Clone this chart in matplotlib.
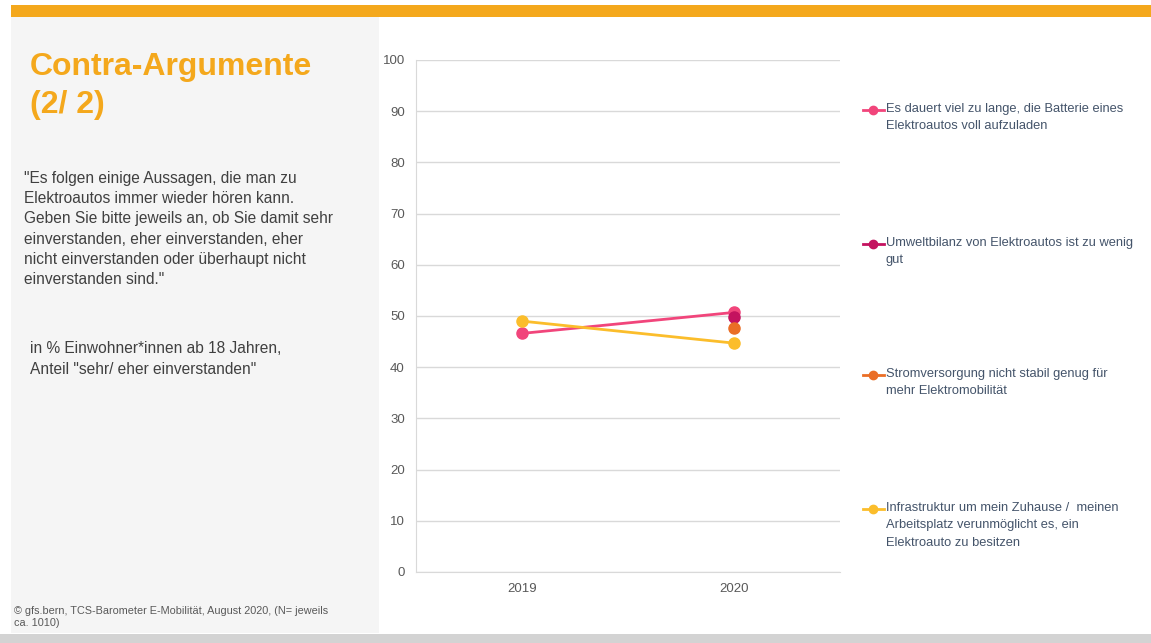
import numpy as np
import matplotlib.pyplot as plt
from matplotlib.patches import Rectangle
from matplotlib.lines import Line2D

# data
years = ['2019', '2020']
labels = [
    'Es dauert viel zu lange, die Batterie eines\nElektroautos voll aufzuladen',
    'Umweltbilanz von Elektroautos ist zu wenig\ngut',
    'Stromversorgung nicht stabil genug für\nmehr Elektromobilität',
    'Infrastruktur um mein Zuhause /  meinen\nArbeitsplatz verunmöglicht es, ein\nElektroauto zu besitzen',
]
batterie = [46.6, 50.7]
umwelt = [np.nan, 49.8]
strom = [np.nan, 47.7]
infra = [49.0, 44.7]
series = [batterie, umwelt, strom, infra]
colors = ['#F1457B', '#C4125F', '#EA6E26', '#FBBD2B']

plt.rcParams['font.family'] = ['Liberation Sans', 'DejaVu Sans']

W, H = 1151, 643
fig = plt.figure(figsize=(W / 100, H / 100), dpi=100)
fig.patch.set_facecolor('white')

# background panels (in pixel coords via figure fraction)
def px(x, y, w, h):
    return (x / W, 1 - (y + h) / H, w / W, h / H)

bg = fig.add_axes([0, 0, 1, 1], zorder=-5)
bg.set_xlim(0, W)
bg.set_ylim(H, 0)
bg.axis('off')
bg.add_patch(Rectangle((11, 17), 368, 616, color='#F5F5F5', lw=0))
bg.add_patch(Rectangle((11, 5), W - 11, 12, color='#F4A81C', lw=0))
bg.add_patch(Rectangle((0, 634), W, 9, color='#D3D3D3', lw=0))

# left panel text
bg.text(30, 86, 'Contra-Argumente\n(2/ 2)', color='#F4A81C', fontsize=23,
        fontweight='bold', va='center', ha='left', linespacing=1.36)
bg.text(24, 229, '"Es folgen einige Aussagen, die man zu\nElektroautos immer wieder hören kann.\n'
        'Geben Sie bitte jeweils an, ob Sie damit sehr\neinverstanden, eher einverstanden, eher\n'
        'nicht einverstanden oder überhaupt nicht\neinverstanden sind."',
        color='#404040', fontsize=11.2, va='center', ha='left', linespacing=1.42)
bg.text(30, 359, 'in % Einwohner*innen ab 18 Jahren,\nAnteil "sehr/ eher einverstanden"',
        color='#404040', fontsize=11.2, va='center', ha='left', linespacing=1.42)
bg.text(14, 617, '© gfs.bern, TCS-Barometer E-Mobilität, August 2020, (N= jeweils\nca. 1010)',
        color='#595959', fontsize=7.8, va='center', ha='left', linespacing=1.35)

# chart
ax = fig.add_axes(px(416, 60, 424, 512))
x = np.arange(len(years))
for vals, c in zip(series, colors):
    ax.plot(x, vals, '-o', color=c, lw=2, ms=8, mec=c, zorder=3, clip_on=False)

ax.set_xlim(-0.5, 1.5)
ax.set_ylim(0, 100)
ax.set_yticks(np.arange(0, 101, 10))
ax.set_xticks(x)
ax.set_xticklabels(years)
ax.grid(axis='y', color='#D9D9D9', lw=1)
ax.set_axisbelow(True)
for s in ['top', 'right']:
    ax.spines[s].set_visible(False)
ax.spines['left'].set_color('#D9D9D9')
ax.spines['bottom'].set_color('#D9D9D9')
ax.tick_params(axis='both', length=0, labelsize=9.5, labelcolor='#595959', pad=8)
ax.set_facecolor('none')

# legend entries placed manually
legend_y = [110, 244, 375, 509]
for lab, c, ly in zip(labels, colors, legend_y):
    bg.add_line(Line2D([863, 884], [ly, ly], color=c, lw=2))
    bg.plot([873.5], [ly], 'o', color=c, ms=6)
    bg.text(886, ly - 7, lab, color='#44546A', fontsize=9.3, va='top', ha='left',
            linespacing=1.6)

fig.savefig('out.png', dpi=100)
